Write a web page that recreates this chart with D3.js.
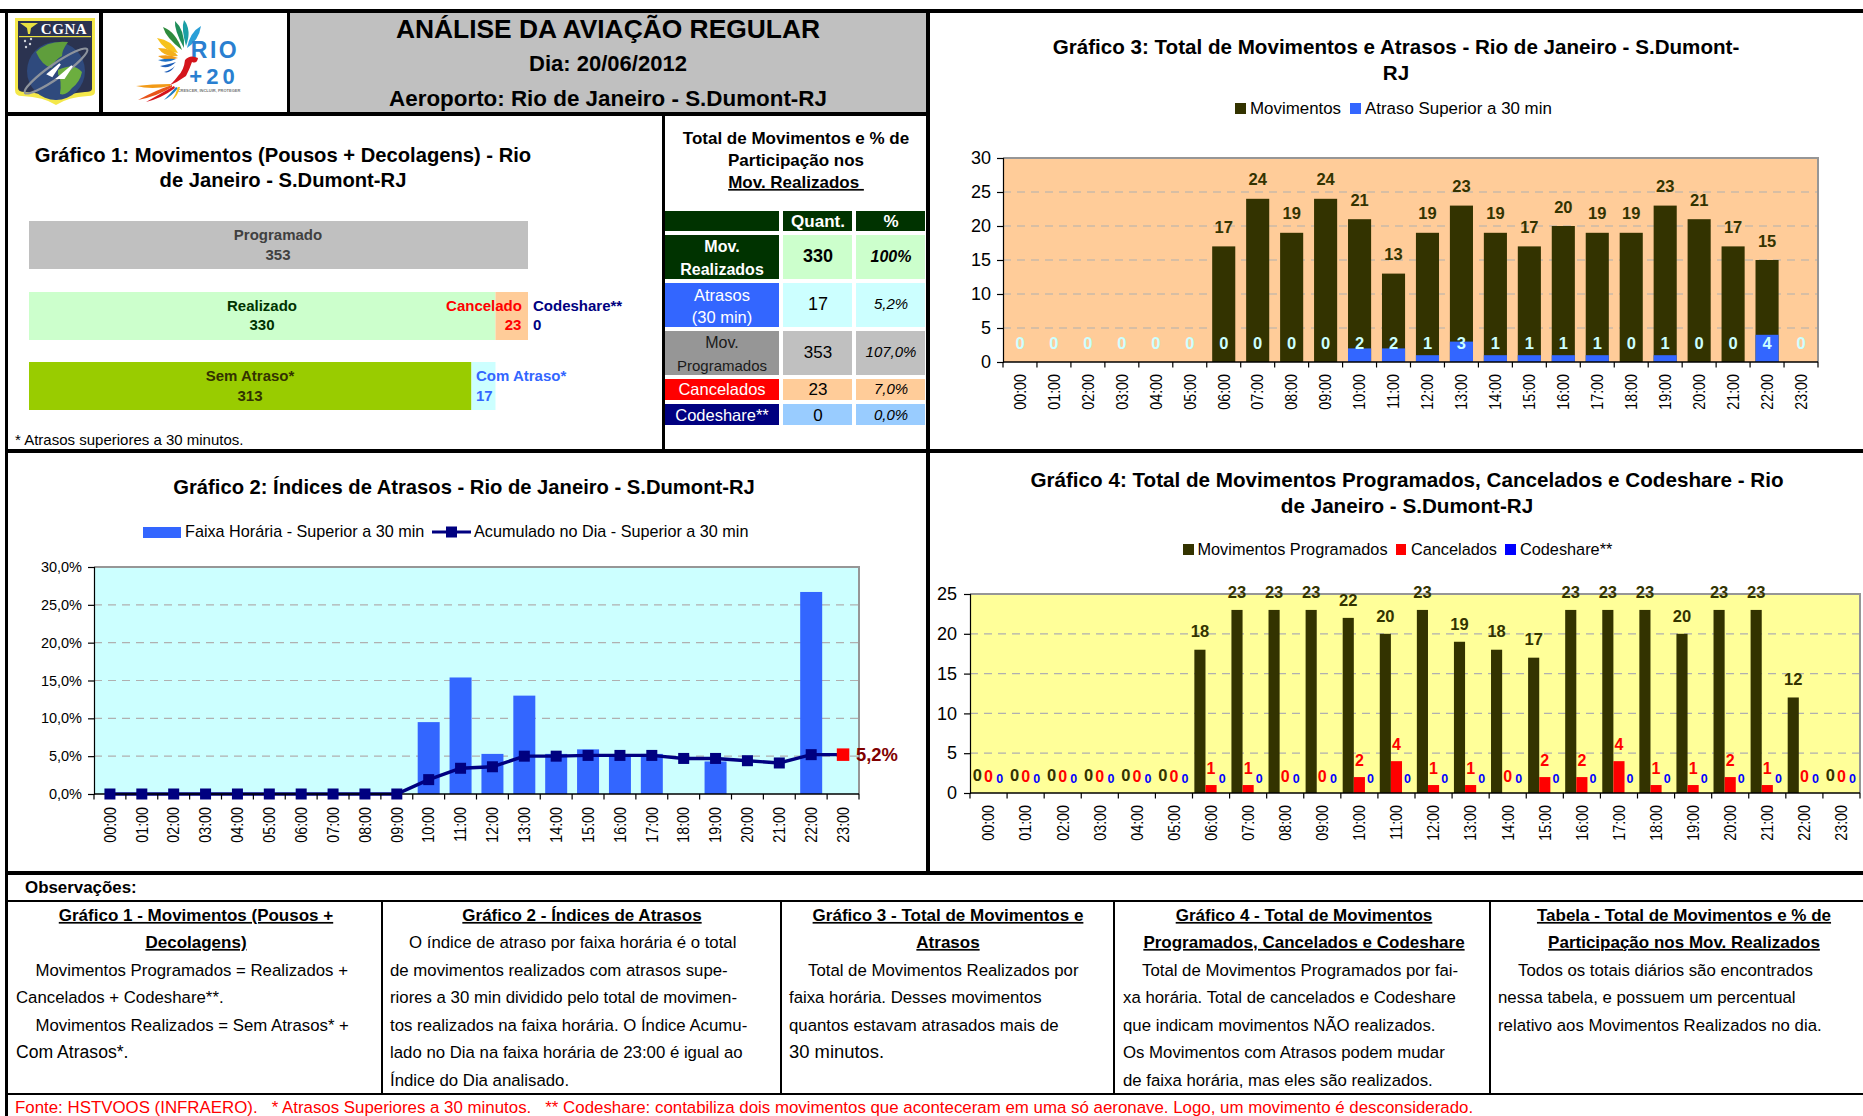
<!DOCTYPE html>
<html><head><meta charset="utf-8">
<script src="https://cdnjs.cloudflare.com/ajax/libs/d3/7.8.5/d3.min.js"></script>
<style>html,body{margin:0;padding:0;background:#fff}svg{display:block}text{font-family:"Liberation Sans",Arial,sans-serif}</style>
</head><body><svg id="c" width="1863" height="1116"></svg>
<script>
// ---------- data ----------
const hours=["00:00","01:00","02:00","03:00","04:00","05:00","06:00","07:00","08:00","09:00","10:00","11:00","12:00","13:00","14:00","15:00","16:00","17:00","18:00","19:00","20:00","21:00","22:00","23:00"];
const movimentos=[0,0,0,0,0,0,17,24,19,24,21,13,19,23,19,17,20,19,19,23,21,17,15,0];
const atrasos=[0,0,0,0,0,0,0,0,0,0,2,2,1,3,1,1,1,1,0,1,0,0,4,0];
const programados=[0,0,0,0,0,0,18,23,23,23,22,20,23,19,18,17,23,23,23,20,23,23,12,0];
const cancelados=[0,0,0,0,0,0,1,1,0,0,2,4,1,1,0,2,2,4,1,1,2,1,0,0];
const codeshare=[0,0,0,0,0,0,0,0,0,0,0,0,0,0,0,0,0,0,0,0,0,0,0,0];
const indiceFaixa=[0,0,0,0,0,0,0,0,0,0,9.5,15.4,5.3,13.0,5.3,5.9,5.0,5.3,0,4.3,0,0,26.7,0];
const indiceAcum=[0,0,0,0,0,0,0,0,0,0,1.9,3.4,3.6,5.0,5.0,5.1,5.1,5.1,4.7,4.7,4.4,4.1,5.2,5.2];
const resumoProgramado=353, resumoRealizado=330, resumoCancelado=23, resumoCodeshare=0, resumoSemAtraso=313, resumoComAtraso=17;
const tickFmt=d=>d.toFixed(1).replace(".",",")+"%";

const svg=d3.select("#c");
const DARK="#333300",BLUE="#3366ff",RED="#ff0000",CODE="#0000ff",GRID="#b0b0b0";
function T(g,x,y,s,o={}){const t=g.append("text").attr("x",x).attr("y",y).attr("dy",".35em").text(s)
 .attr("font-size",o.size||16).attr("font-weight",o.bold?"bold":"normal").attr("fill",o.fill||"#000").attr("text-anchor",o.anchor||"middle");
 if(o.italic)t.attr("font-style","italic");if(o.ul)t.attr("text-decoration","underline");return t;}
function R(g,x0,y0,x1,y1,f){return g.append("rect").attr("x",x0).attr("y",y0).attr("width",x1-x0).attr("height",y1-y0).attr("fill",f);}

// ---------- layout frame ----------
const frame=svg.append("g");
R(frame,290,13,926,112,"#c0c0c0");
[[0,9,1863,13],[5,112,930,116],[5,449,1863,453],[5,871,1863,875],[5,900,1863,902],[5,1093,1863,1095]].forEach(b=>R(frame,b[0],b[1],b[2],b[3],"#000"));
[[5,9,8,1116],[99,9,103,116],[287,9,290,116],[662,116,665,449],[926,9,930,875],[381,900,383,1095],[780,900,782,1095],[1113,900,1115,1095],[1489,900,1491,1095]].forEach(b=>R(frame,b[0],b[1],b[2],b[3],"#000"));

// ---------- header ----------
const h=svg.append("g");
T(h,608,29,"ANÁLISE DA AVIAÇÃO REGULAR",{size:26.4,bold:true});
T(h,608,63,"Dia: 20/06/2012",{size:22,bold:true});
T(h,608,98,"Aeroporto: Rio de Janeiro - S.Dumont-RJ",{size:22.4,bold:true});

// logos (decorative)
const lg=svg.append("g");
lg.append("path").attr("d","M15 18H95V92Q95 96 88 96Q68 97 56 105Q44 97 22 96Q15 96 15 90Z").attr("fill","#f4e84a");
lg.append("path").attr("d","M18 21H92V89Q92 92 85 92Q67 93 56 100Q45 93 25 92Q18 92 18 88Z").attr("fill","#2b3350");
R(lg,19,36,91,37.2,"#e8e040");
T(lg,64,29,"CGNA",{size:15,bold:true,fill:"#fff"}).style("font-family","'Liberation Serif'").attr("letter-spacing",.6);
lg.append("path").attr("d","M20 23L38 23L31 28L30 34L28 34L27 28Z").attr("fill","#e8e040");
lg.append("circle").attr("cx",56).attr("cy",71).attr("r",29).attr("fill","#2f4a7d");
lg.append("path").attr("d","M36 52Q48 40 68 42Q62 50 62 56Q54 60 52 68Q42 66 36 52Z").attr("fill","#5f9e3c");
lg.append("path").attr("d","M58 70Q74 62 82 72Q80 82 72 88Q66 96 60 94Q62 80 58 74Z").attr("fill","#6cae3f");
lg.append("ellipse").attr("cx",56).attr("cy",71).attr("rx",38).attr("ry",7).attr("transform","rotate(-35 56 71)").attr("fill","none").attr("stroke","#8d939c").attr("stroke-width",2.2);
lg.append("path").attr("d","M48 74L60 64L52 76ZM58 78L72 66L64 78Z").attr("fill","#fff").attr("stroke","#fff").attr("stroke-width",2);
[[25,41],[30,44],[26,47],[31,39]].forEach(p=>lg.append("circle").attr("cx",p[0]).attr("cy",p[1]).attr("r",1.2).attr("fill","#cfd3da"));

const feathers=[["#2e8b3d","M182 50Q166 38 163 27Q176 32 182 50"],["#1f8e5a","M184 48Q174 30 175 21Q185 30 184 48"],["#1b9fa6","M186 46Q181 28 184 20Q192 30 186 46"],["#2a9fd8","M187 48Q190 32 201 26Q199 40 187 48"],
["#f6c21d","M178 53Q165 52 157 38Q172 40 178 53"],["#f5b01a","M178 56Q165 58 158 48Q172 48 178 56"],["#f29a17","M178 58Q166 62 158 56Q170 54 178 58"],["#1c6fc4","M176 59Q166 64 158 60Q168 58 176 59"],["#1f5fb8","M176 62Q168 70 160 66Q170 64 176 62"],["#1f5fb8","M175 66Q170 74 164 72Q171 70 175 66"]];
feathers.forEach(f=>lg.append("path").attr("d",f[1]).attr("fill",f[0]));
T(lg,215,50,"RIO",{size:23,bold:true,fill:"#2a7fd0"}).attr("letter-spacing",2.5);
T(lg,214,76,"+20",{size:22,bold:true,fill:"#2a7fd0"}).attr("letter-spacing",4);
T(lg,209,91,"CRESCER, INCLUIR, PROTEGER",{size:4,bold:true,fill:"#777"});
lg.append("path").attr("d","M198 58Q190 54 185 60Q184 70 178 76Q172 84 168 86Q178 82 186 76Q190 68 192 62Q197 64 198 58Z").attr("fill","#d4141c");
[["#f29a17","M170 84Q152 84 136 86Q152 90 170 86"],["#e8541a","M172 85Q156 90 138 100Q158 96 172 87"],["#d4141c","M174 86Q160 94 146 102Q162 98 175 88"],["#1f7fc0","M176 87Q170 94 164 100Q172 96 178 88"],["#f6c21d","M178 87Q176 94 172 100Q178 96 180 87"]].forEach(f=>lg.append("path").attr("d",f[1]).attr("fill",f[0]));

// ---------- Gráfico 1 ----------
const g1=svg.append("g");
T(g1,283,155,"Gráfico 1: Movimentos (Pousos + Decolagens) - Rio",{size:20.2,bold:true});
T(g1,283,180,"de Janeiro - S.Dumont-RJ",{size:20.2,bold:true});
const x1=d3.scaleLinear().domain([0,resumoProgramado]).range([29,528]);
R(g1,x1(0),221,x1(resumoProgramado),269,"#c0c0c0");
R(g1,x1(0),292,x1(resumoRealizado),340,"#ccffcc");
R(g1,x1(resumoRealizado),292,x1(resumoRealizado+resumoCancelado),340,"#ffcc99");
R(g1,x1(0),362,x1(resumoSemAtraso),410,"#99cc00");
R(g1,x1(resumoSemAtraso),362,x1(resumoRealizado),410,"#ccffff");
const o1={size:15,bold:true};
T(g1,278,235,"Programado",{...o1,fill:"#404040"});T(g1,278,255,resumoProgramado,{...o1,fill:"#404040"});
T(g1,262,306,"Realizado",{...o1,fill:"#003300"});T(g1,262,325,resumoRealizado,{...o1,fill:"#003300"});
T(g1,484,306,"Cancelado",{...o1,fill:RED});T(g1,513,325,resumoCancelado,{...o1,fill:RED});
T(g1,533,306,"Codeshare**",{...o1,fill:"#000080",anchor:"start"});T(g1,533,325,resumoCodeshare,{...o1,fill:"#000080",anchor:"start"});
T(g1,250,376,"Sem Atraso*",{...o1,fill:DARK});T(g1,250,396,resumoSemAtraso,{...o1,fill:DARK});
T(g1,476,376,"Com Atraso*",{...o1,fill:BLUE,anchor:"start"});T(g1,476,396,resumoComAtraso,{...o1,fill:BLUE,anchor:"start"});
T(g1,15,440,"* Atrasos superiores a 30 minutos.",{size:15,anchor:"start"});

// ---------- Tabela ----------
const tb=svg.append("g");
T(tb,796,138,"Total de Movimentos e % de",{size:17,bold:true});
T(tb,796,160,"Participação nos",{size:17,bold:true});
T(tb,796,182,"Mov. Realizados ",{size:17,bold:true,ul:true}).attr("xml:space","preserve");
const colX=[[665,779],[783,852],[856,925]];
const rowsT=[
 {y:[211,231],fills:["#003300","#003300","#003300"]},
 {y:[235,279],fills:["#003300","#ccffcc","#ccffcc"]},
 {y:[283,327],fills:[BLUE,"#ccffff","#ccffff"]},
 {y:[331,375],fills:["#969696","#c0c0c0","#c0c0c0"]},
 {y:[379,400],fills:[RED,"#ffcc99","#ffcc99"]},
 {y:[404,425],fills:["#000080","#99ccff","#99ccff"]}];
rowsT.forEach(r=>colX.forEach((c,i)=>R(tb,c[0],r.y[0],c[1],r.y[1],r.fills[i])));
const cA=722,cB=818,cC=891;
T(tb,cB,221,"Quant.",{bold:true,fill:"#fff",size:17});T(tb,cC,221,"%",{bold:true,fill:"#fff",size:17});
T(tb,cA,246,"Mov.",{bold:true,fill:"#fff",size:16});T(tb,cA,269,"Realizados",{bold:true,fill:"#fff",size:16});
T(tb,cB,256,"330",{bold:true,size:18});T(tb,cC,256,"100%",{bold:true,italic:true,size:16});
T(tb,cA,295,"Atrasos",{fill:"#fff",size:16.5});T(tb,cA,317,"(30 min)",{fill:"#fff",size:16.5});
T(tb,cB,304,"17",{size:18});T(tb,cC,304,"5,2%",{italic:true,size:15});
T(tb,cA,342,"Mov.",{fill:"#1a1a1a",size:16});T(tb,cA,366,"Programados",{fill:"#1a1a1a",size:15});
T(tb,cB,352,"353",{size:17});T(tb,cC,352,"107,0%",{italic:true,size:15});
T(tb,cA,389,"Cancelados",{fill:"#fff",size:16.5});T(tb,cB,389,"23",{size:17});T(tb,cC,389,"7,0%",{italic:true,size:15});
T(tb,cA,415,"Codeshare**",{fill:"#fff",size:16.5});T(tb,cB,415,"0",{size:17});T(tb,cC,415,"0,0%",{italic:true,size:15});

// ---------- shared chart frame ----------
function plotFrame(g,x0,x1,y0,y1,bg,yScale,ticks){
 R(g,x0,y0,x1,y1,bg);
 g.append("g").selectAll("line").data(ticks.slice(1,-1)).join("line")
  .attr("x1",x0).attr("x2",x1).attr("y1",d=>yScale(d)).attr("y2",d=>yScale(d))
  .attr("stroke",GRID).attr("stroke-width",1.2).attr("stroke-dasharray","8 6");
 R(g,x0,y0-1,x1+1,y0+1,"#969696");R(g,x1-1,y0-1,x1+1,y1,"#969696");
}
function finishAxes(g,band,x0,x1,y0,y1,yScale,ticks,fmt,tsize,labelTop,pad){
 const ya=d3.axisLeft(yScale).tickValues(ticks).tickFormat(fmt).tickSize(6).tickPadding(pad||6);
 const ga=g.append("g").attr("transform",`translate(${x0},0)`).call(ya);
 ga.select(".domain").attr("stroke","#000").attr("stroke-width",1.2);
 ga.selectAll("line").attr("stroke","#000").attr("stroke-width",1.2);
 ga.selectAll("text").attr("font-size",tsize).attr("font-family","Liberation Sans").attr("fill","#000");
 const xa=d3.axisBottom(band).tickSize(0).tickFormat("");
 const gx=g.append("g").attr("transform",`translate(0,${y1})`).call(xa);
 gx.select(".domain").attr("stroke","#000").attr("stroke-width",1.6).attr("d",`M${x0},0H${x1}`);
 const step=band.step();
 g.append("g").selectAll("line").data(d3.range(hours.length+1)).join("line")
  .attr("x1",i=>x0+i*step).attr("x2",i=>x0+i*step).attr("y1",y1).attr("y2",y1+5.5).attr("stroke","#000").attr("stroke-width",1.2);
 g.append("g").selectAll("text").data(hours).join("text").text(d=>d)
  .attr("transform",d=>`translate(${x0+(hours.indexOf(d)+.5)*step},${labelTop}) rotate(-90) scale(1,1.16)`)
  .attr("dy",".35em").attr("text-anchor","end").attr("font-size",14.3).attr("fill","#000");
}
function legendSw(g,x0,y0,x1,y1,f){R(g,x0,y0,x1,y1,f);}

// ---------- Gráfico 2 ----------
{
 const g=svg.append("g");
 T(g,464,487,"Gráfico 2: Índices de Atrasos - Rio de Janeiro - S.Dumont-RJ",{size:20.2,bold:true});
 legendSw(g,143,527,181,538,BLUE);T(g,185,531.5,"Faixa Horária - Superior a 30 min",{size:16.2,anchor:"start"});
 g.append("line").attr("x1",432).attr("x2",471).attr("y1",532).attr("y2",532).attr("stroke","#000080").attr("stroke-width",3);
 R(g,446,526.5,457,537.5,"#000080");T(g,474,531.5,"Acumulado no Dia - Superior a 30 min",{size:16.2,anchor:"start"});
 const X0=94,X1=859,Y0=567,Y1=794;
 const y=d3.scaleLinear().domain([0,30]).range([Y1,Y0]);
 const band=d3.scaleBand().domain(hours).range([X0,X1]).paddingInner(.31).paddingOuter(.155);
 const tk=[0,5,10,15,20,25,30];
 plotFrame(g,X0,X1,Y0,Y1,"#ccffff",y,tk);
 g.append("g").selectAll("rect").data(indiceFaixa).join("rect")
  .attr("x",(d,i)=>band(hours[i])).attr("width",band.bandwidth()).attr("y",d=>y(d)).attr("height",d=>Y1-y(d)).attr("fill",BLUE);
 const cx=i=>band(hours[i])+band.bandwidth()/2;
 g.append("path").attr("d",d3.line().x((d,i)=>cx(i)).y(d=>y(d))(indiceAcum)).attr("fill","none").attr("stroke","#000080").attr("stroke-width",3.4);
 finishAxes(g,band,X0,X1,Y0,Y1,y,tk,tickFmt,14.5,807);
 g.append("g").selectAll("rect").data(indiceAcum.slice(0,-1)).join("rect")
  .attr("x",(d,i)=>cx(i)-5.5).attr("y",d=>y(d)-5.5).attr("width",11).attr("height",11).attr("fill","#000080");
 const last=indiceAcum.length-1;
 g.append("rect").attr("x",cx(last)-6.25).attr("y",y(indiceAcum[last])-6.25).attr("width",12.5).attr("height",12.5).attr("fill",RED);
 T(g,856,755,tickFmt(indiceAcum[last]),{size:18.4,bold:true,fill:"#800000",anchor:"start"});
}

// ---------- Gráfico 3 ----------
{
 const g=svg.append("g");
 T(g,1396,47,"Gráfico 3: Total de Movimentos e Atrasos - Rio de Janeiro - S.Dumont-",{size:20.6,bold:true});
 T(g,1396,73,"RJ",{size:20.6,bold:true});
 legendSw(g,1235,103,1246,114,DARK);T(g,1250,108.5,"Movimentos",{size:16.9,anchor:"start"});
 legendSw(g,1350,103,1361,114,BLUE);T(g,1365,108.5,"Atraso Superior a 30 min",{size:16.9,anchor:"start"});
 const X0=1003,X1=1818,Y0=158,Y1=362;
 const y=d3.scaleLinear().domain([0,30]).range([Y1,Y0]);
 const band=d3.scaleBand().domain(hours).range([X0,X1]).paddingInner(.32).paddingOuter(.16);
 const tk=[0,5,10,15,20,25,30];
 plotFrame(g,X0,X1,Y0,Y1,"#ffcc99",y,tk);
 g.append("g").selectAll("rect").data(movimentos).join("rect")
  .attr("x",(d,i)=>band(hours[i])).attr("width",band.bandwidth()).attr("y",d=>y(d)).attr("height",d=>Y1-y(d)).attr("fill",DARK);
 g.append("g").selectAll("rect").data(atrasos).join("rect")
  .attr("x",(d,i)=>band(hours[i])).attr("width",band.bandwidth()).attr("y",d=>y(d)).attr("height",d=>Y1-y(d)).attr("fill",BLUE);
 finishAxes(g,band,X0,X1,Y0,Y1,y,tk,d=>d,18,374,6);
 const cx=i=>band(hours[i])+band.bandwidth()/2;
 movimentos.forEach((d,i)=>{if(d>0)T(g,cx(i),y(d)-19.2,d,{size:16.5,bold:true,fill:DARK});});
 atrasos.forEach((d,i)=>T(g,cx(i),343.5,d,{size:16.5,bold:true,fill:"#ccffff"}));
}

// ---------- Gráfico 4 ----------
{
 const g=svg.append("g");
 T(g,1407,480,"Gráfico 4: Total de Movimentos Programados, Cancelados e Codeshare - Rio",{size:20.65,bold:true});
 T(g,1407,506,"de Janeiro - S.Dumont-RJ",{size:20.65,bold:true});
 legendSw(g,1183,544,1194,555,DARK);T(g,1197.5,549.5,"Movimentos Programados",{size:16.3,anchor:"start"});
 legendSw(g,1396,544,1406,555,RED);T(g,1411,549.5,"Cancelados",{size:16.3,anchor:"start"});
 legendSw(g,1505,544,1516,555,CODE);T(g,1520,549.5,"Codeshare**",{size:16.3,anchor:"start"});
 const X0=970,X1=1860,Y0=594,Y1=793;
 const y=d3.scaleLinear().domain([0,25]).range([Y1,Y0]);
 const band=d3.scaleBand().domain(hours).range([X0,X1]).paddingInner(.1).paddingOuter(.05);
 const sub=d3.scaleBand().domain(["p","c","s"]).range([0,band.bandwidth()]);
 const tk=[0,5,10,15,20,25];
 plotFrame(g,X0,X1,Y0,Y1,"#ffff99",y,tk);
 const series=[["p",programados,DARK],["c",cancelados,RED],["s",codeshare,CODE]];
 series.forEach(s=>g.append("g").selectAll("rect").data(s[1]).join("rect")
  .attr("x",(d,i)=>band(hours[i])+sub(s[0])).attr("width",sub.bandwidth()).attr("y",d=>y(d)).attr("height",d=>Y1-y(d)).attr("fill",s[2]));
 finishAxes(g,band,X0,X1,Y0,Y1,y,tk,d=>d,18,805,7);
 const cx=(i,k)=>band(hours[i])+sub(k)+sub.bandwidth()/2;
 programados.forEach((d,i)=>T(g,cx(i,"p"),y(d)-18,d,{size:16.5,bold:true,fill:DARK}));
 cancelados.forEach((d,i)=>T(g,cx(i,"c"),y(d)-17,d,{size:16,bold:true,fill:RED}));
 codeshare.forEach((d,i)=>T(g,cx(i,"s"),y(d)-14,d,{size:12.5,bold:true,fill:CODE}));
}

// ---------- Observações ----------
const ob=svg.append("g");
T(ob,25,887,"Observações:",{size:16.9,bold:true,anchor:"start"});
const lineY=[915,942,970,997,1025,1052,1080];
const notes=[
 {cx:196,left:16,ind:35.5,head:["Gráfico 1 - Movimentos (Pousos +","Decolagens)"],body:[["Movimentos Programados = Realizados +",1],["Cancelados + Codeshare**.",0],["Movimentos Realizados = Sem Atrasos* +",1],["Com Atrasos*.",0,17.6]]},
 {cx:582,left:390,ind:409,head:["Gráfico 2 - Índices de Atrasos"],body:[["O índice de atraso por faixa horária é o total",1],["de movimentos realizados com atrasos supe-",0],["riores a 30 min dividido pelo total de movimen-",0],["tos realizados na faixa horária. O Índice Acumu-",0],["lado no Dia na faixa horária de 23:00 é igual ao",0],["Índice do Dia analisado.",0]]},
 {cx:948,left:789,ind:808,head:["Gráfico 3 - Total de Movimentos e","Atrasos"],body:[["Total de Movimentos Realizados por",1],["faixa horária. Desses movimentos",0],["quantos estavam atrasados mais de",0],["30 minutos.",0,18.4]]},
 {cx:1304,left:1123,ind:1142,head:["Gráfico 4 - Total de Movimentos","Programados, Cancelados e Codeshare"],body:[["Total de Movimentos Programados por fai-",1],["xa horária. Total de cancelados e Codeshare",0],["que indicam movimentos NÃO realizados.",0],["Os Movimentos com Atrasos podem mudar",0],["de faixa horária, mas eles são realizados.",0]]},
 {cx:1684,left:1498,ind:1518,head:["Tabela - Total de Movimentos e % de","Participação nos Mov. Realizados "],body:[["Todos os totais diários são encontrados",1],["nessa tabela, e possuem um percentual",0],["relativo aos Movimentos Realizados no dia.",0]]}
];
notes.forEach(n=>{
 n.head.forEach((s,i)=>T(ob,n.cx,lineY[i],s,{size:17,bold:true,ul:true}));
 const start=n.head.length===1?1:2;
 n.body.forEach((b,i)=>T(ob,b[1]?n.ind:n.left,lineY[start+i],b[0],{size:b[2]||16.8,anchor:"start"}));
});
T(ob,15,1107,"Fonte: HSTVOOS (INFRAERO).   * Atrasos Superiores a 30 minutos.   ** Codeshare: contabiliza dois movimentos que aconteceram em uma só aeronave. Logo, um movimento é desconsiderado.",{size:16.88,fill:RED,anchor:"start"}).attr("xml:space","preserve");
</script></body></html>
